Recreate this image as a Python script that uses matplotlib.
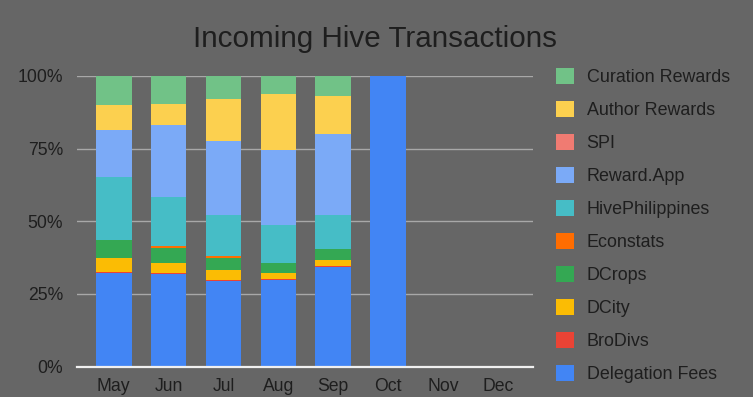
import numpy as np
import matplotlib
matplotlib.use('Agg')
import matplotlib.pyplot as plt
from matplotlib.ticker import PercentFormatter

plt.rcParams['font.family'] = ['Liberation Sans', 'DejaVu Sans']

# Data (share of incoming transactions per month, in %)
months = ['May', 'Jun', 'Jul', 'Aug', 'Sep', 'Oct', 'Nov', 'Dec']
delegation_fees = [32.3, 31.7, 29.5, 29.7, 34.3, 100, 0, 0]
brodivs = [0.3, 0.4, 0.4, 0.4, 0.4, 0, 0, 0]
dcity = [4.7, 3.5, 3.2, 2.1, 2.1, 0, 0, 0]
dcrops = [6.1, 5.3, 4.4, 3.6, 3.5, 0, 0, 0]
econstats = [0, 0.6, 0.4, 0, 0, 0, 0, 0]
hive_philippines = [21.7, 16.9, 14.4, 12.8, 12.0, 0, 0, 0]
reward_app = [16.2, 24.9, 25.3, 25.9, 27.9, 0, 0, 0]
spi = [0, 0, 0, 0, 0, 0, 0, 0]
author_rewards = [8.7, 7.0, 14.5, 19.2, 12.9, 0, 0, 0]
curation_rewards = [10.0, 9.7, 7.9, 6.3, 6.9, 0, 0, 0]

series_names = ['Delegation Fees', 'BroDivs', 'DCity', 'DCrops', 'Econstats',
                'HivePhilippines', 'Reward.App', 'SPI', 'Author Rewards',
                'Curation Rewards']
series_values = [delegation_fees, brodivs, dcity, dcrops, econstats,
                 hive_philippines, reward_app, spi, author_rewards,
                 curation_rewards]
colors = ['#4285F4', '#EA4335', '#FBBC04', '#34A853', '#FF6D01',
          '#46BDC6', '#7BAAF7', '#F07B72', '#FCD04F', '#71C287']

bg = '#666666'
text_col = '#1e1e1e'

data = np.array(series_values, dtype=float)
totals = data.sum(axis=0)
totals[totals == 0] = 1
shares = data / totals

fig = plt.figure(figsize=(7.53, 3.97), dpi=100, facecolor=bg)
ax = fig.add_axes([77 / 753, 1 - 366.5 / 397, 456 / 753, 290.5 / 397])
ax.set_facecolor(bg)

x = np.arange(len(months))
bottom = np.zeros(len(months))
handles = []
for name, vals, col in zip(series_names, shares, colors):
    h = ax.bar(x, vals, 0.65, bottom=bottom, color=col, label=name, linewidth=0)
    handles.append(h)
    bottom += vals

ax.set_xlim(-0.67, 7.64)
ax.set_ylim(0, 1.0)
ax.yaxis.set_major_formatter(PercentFormatter(1.0, decimals=0))
ax.set_yticks([0, 0.25, 0.5, 0.75, 1.0])
ax.set_xticks(x)
ax.set_xticklabels(months)
ax.tick_params(axis='both', length=0, labelsize=12.7, colors=text_col)
ax.tick_params(axis='y', pad=10)
ax.tick_params(axis='x', pad=8)
ax.grid(axis='y', color='#a8a8a8', linewidth=1)
ax.set_axisbelow(True)
for s in ['top', 'right', 'left']:
    ax.spines[s].set_visible(False)
ax.spines['bottom'].set_color('#f0f0f0')
ax.spines['bottom'].set_linewidth(1.6)
ax.spines['bottom'].set_zorder(5)

fig.text(375 / 753, 1 - 39 / 397, 'Incoming Hive Transactions', ha='center',
         va='center', fontsize=21.3, color=text_col)

leg = fig.legend(handles[::-1], series_names[::-1], loc='upper left',
                 bbox_to_anchor=(556 / 753, 1 - 67.5 / 397), frameon=False,
                 fontsize=12.9, labelspacing=0.83, handlelength=1.0,
                 handleheight=1.0, handletextpad=0.71, borderpad=0,
                 borderaxespad=0)
for t in leg.get_texts():
    t.set_color(text_col)

fig.savefig('out.png', dpi=100, facecolor=bg)
